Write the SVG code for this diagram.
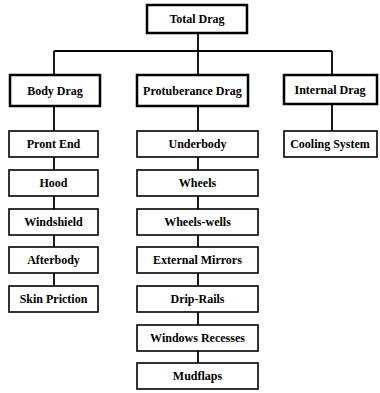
<svg xmlns="http://www.w3.org/2000/svg" width="380" height="393" viewBox="0 0 380 393">
<style>
.top{fill:#fff;stroke:#000;stroke-width:2.5}
.sub{fill:#fff;stroke:#000;stroke-width:1.6}
text{font-family:"Liberation Serif","DejaVu Serif",serif;font-weight:bold;font-size:12px;text-anchor:middle;fill:#000}
.c line{stroke:#000;stroke-width:1.8}
</style>
<rect width="380" height="393" fill="#fff"/>
<g class="c" id="connectors">
<line x1="198" y1="33" x2="198" y2="51"/>
<line x1="54" y1="51" x2="332" y2="51"/>
<line x1="54" y1="51" x2="54" y2="75"/>
<line x1="198" y1="51" x2="198" y2="75"/>
<line x1="332" y1="51" x2="332" y2="75"/>
<line x1="54" y1="106" x2="54" y2="286"/>
<line x1="198" y1="106" x2="198" y2="363"/>
<line x1="332" y1="104" x2="332" y2="131"/>
</g>
<g id="total"><rect class="top" x="147" y="5" width="100" height="28"/><text x="197" y="23">Total Drag</text></g>
<g id="body"><rect class="top" x="10" y="75" width="90" height="31"/><text x="55" y="94.5">Body Drag</text></g>
<g id="protuberance"><rect class="top" x="137" y="75" width="111" height="31"/><text x="192.5" y="94.5">Protuberance Drag</text></g>
<g id="internal"><rect class="top" x="284" y="75" width="93" height="29"/><text x="330" y="93.5">Internal Drag</text></g>
<g id="frontend"><rect class="sub" x="9" y="131" width="89" height="26"/><text x="53.5" y="148">Pront End</text></g>
<g id="hood"><rect class="sub" x="9" y="170" width="89" height="26"/><text x="53.5" y="187">Hood</text></g>
<g id="windshield"><rect class="sub" x="9" y="209" width="89" height="26"/><text x="53.5" y="226">Windshield</text></g>
<g id="afterbody"><rect class="sub" x="9" y="247" width="89" height="26"/><text x="53.5" y="264">Afterbody</text></g>
<g id="skinfriction"><rect class="sub" x="9" y="286" width="89" height="26"/><text x="53.5" y="303">Skin Priction</text></g>
<g id="underbody"><rect class="sub" x="137" y="131" width="121" height="26"/><text x="197.5" y="148">Underbody</text></g>
<g id="wheels"><rect class="sub" x="137" y="170" width="121" height="26"/><text x="197.5" y="187">Wheels</text></g>
<g id="wheelswells"><rect class="sub" x="137" y="209" width="121" height="26"/><text x="197.5" y="226">Wheels-wells</text></g>
<g id="mirrors"><rect class="sub" x="137" y="247" width="121" height="26"/><text x="197.5" y="264">External Mirrors</text></g>
<g id="driprails"><rect class="sub" x="137" y="286" width="121" height="26"/><text x="197.5" y="303">Drip-Rails</text></g>
<g id="windows"><rect class="sub" x="137" y="325" width="121" height="26"/><text x="197.5" y="342">Windows Recesses</text></g>
<g id="mudflaps"><rect class="sub" x="137" y="363" width="121" height="26"/><text x="197.5" y="380">Mudflaps</text></g>
<g id="cooling"><rect class="sub" x="284" y="131" width="93" height="26"/><text x="330" y="148">Cooling System</text></g>
</svg>
